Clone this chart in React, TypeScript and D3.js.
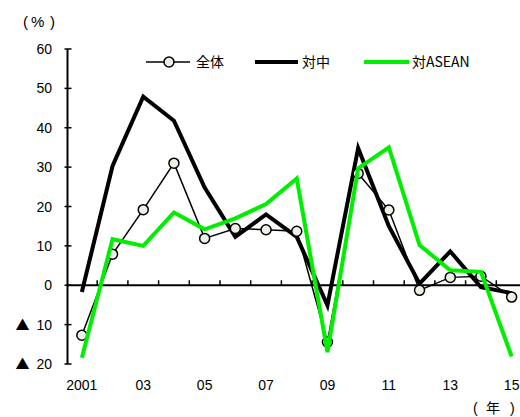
import React from "react";
import * as d3 from "d3";

// Year-on-year growth (%) by partner
const years = [2001, 2002, 2003, 2004, 2005, 2006, 2007, 2008, 2009, 2010, 2011, 2012, 2013, 2014, 2015];
const totalValues = [-12.7, 7.9, 19.2, 31.0, 11.9, 14.4, 14.1, 13.7, -14.4, 28.4, 19.1, -1.3, 2.0, 2.3, -3.0];
const chinaValues = [-1.7, 30.3, 47.9, 41.8, 24.8, 12.3, 18.0, 12.3, -5.1, 34.8, 15.0, 0.4, 8.6, -0.5, -2.0];
const aseanValues = [-18.4, 11.7, 10.0, 18.5, 14.2, 17.0, 20.6, 27.1, -17.0, 29.7, 35.0, 10.2, 3.8, 3.4, -18.1];

const yTicks = [60, 50, 40, 30, 20, 10, 0, -10, -20];
const xLabels: Record<number, string> = {
  2001: "2001", 2003: "03", 2005: "05", 2007: "07", 2009: "09", 2011: "11", 2013: "13", 2015: "15",
};
const seriesNames = ["全体", "対中", "対ASEAN"];

const W = 520;
const H = 417;
const GREEN = "#00ee00";
const MARKER_FILL = "#efefe6";
const NUM_FONT = "'Liberation Sans', Arial, sans-serif";
const CJK_FONT = "'Noto Sans CJK JP', 'Liberation Sans', sans-serif";

export default function App() {
  const x = d3.scaleBand<number>().domain(years).range([66.5, 527]).padding(0);
  const cx = (yr: number) => (x(yr) as number) + x.bandwidth() / 2;
  const y = d3.scaleLinear().domain([-20, 60]).range([364, 49]);

  const line = d3
    .line<[number, number]>()
    .x((d) => cx(d[0]))
    .y((d) => y(d[1]));

  const pts = (vals: number[]) => years.map((yr, i) => [yr, vals[i]] as [number, number]);

  const axisX = 67.5;

  return (
    <div style={{ position: "fixed", left: 0, top: 0 }}>
      <svg width={W} height={H} style={{ display: "block", background: "#fff" }}>
        {/* unit label: （%） */}
        <g fontFamily={NUM_FONT} fontSize={15} fill="#000">
          <text x={23} y={27}>(</text>
          <text x={31} y={27}>%</text>
          <text x={50} y={27}>)</text>
        </g>

        {/* y axis */}
        <line x1={axisX} x2={axisX} y1={y(60)} y2={y(-20)} stroke="#000" strokeWidth={2} />
        {yTicks.map((t) => (
          <g key={t}>
            <line x1={axisX - 3} x2={axisX + 4} y1={y(t)} y2={y(t)} stroke="#000" strokeWidth={1.5} />
            <text
              x={52}
              y={y(t)}
              dy="0.36em"
              textAnchor="end"
              fontFamily={NUM_FONT}
              fontSize={14}
              fill="#000"
            >
              {t < 0 ? (
                <>
                  <tspan fontFamily={CJK_FONT} fontSize={14}>
                    ▲
                  </tspan>
                  <tspan dx={7}>{Math.abs(t)}</tspan>
                </>
              ) : (
                `${t}`
              )}
            </text>
          </g>
        ))}

        {/* zero line with category ticks */}
        <line x1={axisX} x2={W} y1={y(0)} y2={y(0)} stroke="#000" strokeWidth={2} />
        {years.slice(1).map((yr) => (
          <line
            key={yr}
            x1={x(yr) as number}
            x2={x(yr) as number}
            y1={y(0) - 5}
            y2={y(0)}
            stroke="#000"
            strokeWidth={1.5}
          />
        ))}

        {/* x labels */}
        {years
          .filter((yr) => xLabels[yr])
          .map((yr) => (
            <text
              key={yr}
              x={cx(yr)}
              y={390}
              textAnchor="middle"
              fontFamily={NUM_FONT}
              fontSize={14}
              fill="#000"
            >
              {xLabels[yr]}
            </text>
          ))}
        {/* unit label: （年） */}
        <g fill="#000">
          <text x={473} y={413} fontFamily={NUM_FONT} fontSize={14}>(</text>
          <text x={486} y={413} fontFamily={CJK_FONT} fontSize={14}>年</text>
          <text x={510} y={413} fontFamily={NUM_FONT} fontSize={14}>)</text>
        </g>

        {/* series */}
        <path d={line(pts(chinaValues)) || ""} fill="none" stroke="#000" strokeWidth={4} strokeLinejoin="miter" />
        <path d={line(pts(totalValues)) || ""} fill="none" stroke="#000" strokeWidth={1.5} />
        {pts(totalValues).map((d) => (
          <circle key={d[0]} cx={cx(d[0])} cy={y(d[1])} r={5} fill={MARKER_FILL} stroke="#000" strokeWidth={1.5} />
        ))}
        <path d={line(pts(aseanValues)) || ""} fill="none" stroke={GREEN} strokeWidth={4} strokeLinejoin="miter" />

        {/* legend */}
        <g>
          <line x1={146} x2={190} y1={62} y2={62} stroke="#000" strokeWidth={1.5} />
          <circle cx={169} cy={62} r={5} fill={MARKER_FILL} stroke="#000" strokeWidth={1.5} />
          <text x={196} y={62} dy="0.36em" fontFamily={CJK_FONT} fontSize={14} fill="#000">
            {seriesNames[0]}
          </text>
          <line x1={255} x2={298} y1={62} y2={62} stroke="#000" strokeWidth={4} />
          <text x={302} y={62} dy="0.36em" fontFamily={CJK_FONT} fontSize={14} fill="#000">
            {seriesNames[1]}
          </text>
          <line x1={364} x2={409} y1={62} y2={62} stroke={GREEN} strokeWidth={4} />
          <text x={412} y={62} dy="0.36em" fontFamily={CJK_FONT} fontSize={14} fill="#000">
            {seriesNames[2]}
          </text>
        </g>
      </svg>
    </div>
  );
}
